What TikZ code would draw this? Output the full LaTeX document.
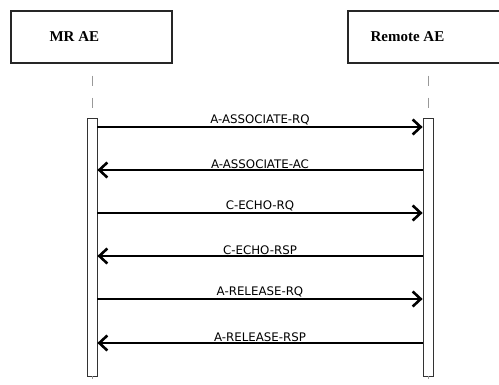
\documentclass[tikz,border=0pt]{standalone}
\usepackage{fontspec}
\setmainfont{Liberation Serif}
\newfontfamily\msgfont{DejaVu Sans}
\usetikzlibrary{arrows.meta,positioning}
\tikzstyle{entity} = [rectangle, draw=black!85, line width=1.5pt,
    minimum width=161pt, minimum height=52pt, inner sep=0pt]
\tikzstyle{title} = [font=\fontsize{15}{18}\selectfont\bfseries, anchor=west]
\tikzstyle{lifeline} = [draw=black!40, line width=1pt,
    dash pattern=on 10pt off 12pt, dash phase=10pt]
\tikzstyle{bar} = [rectangle, draw=black!80, fill=white, line width=0.8pt,
    minimum width=10pt, minimum height=258pt, inner sep=0pt]
\tikzstyle{line} = [draw, line width=2pt,
    -{Straight Barb[length=8pt,width=15pt,line width=2.6pt]}]
\tikzstyle{msg} = [font=\msgfont\fontsize{11.8}{14}\selectfont, above, inner sep=0.8pt]

\begin{document}
\begin{tikzpicture}[x=1pt, y=-1pt]
    \useasboundingbox (0,0) rectangle (499,385);
    % Place nodes
    \node [entity] (mr) at (91.5,37) {};
    \node [title] (mrtext) at (46,37) {MR AE};
    \node [entity, minimum width=154pt] (remote) at (425,37) {};
    \node [title] (remotetext) at (367,37) {Remote AE};
    \node [bar] (mrbar) at (92,247) {};
    \node [bar] (remotebar) at (428,247) {};
    \coordinate (mrend) at (92,385);
    \coordinate (remoteend) at (428,385);
    \coordinate (m1) at (0,127);
    \coordinate (m2) at (0,170);
    \coordinate (m3) at (0,213);
    \coordinate (m4) at (0,256);
    \coordinate (m5) at (0,299);
    \coordinate (m6) at (0,343);
    % Draw lifelines
    \path [lifeline] (mrbar.north |- mr.south) -- (mrbar.north);
    \path [lifeline] (remotebar.north |- remote.south) -- (remotebar.north);
    \path [lifeline, dash phase=7pt] (mrbar.south) -- (mrend);
    \path [lifeline, dash phase=7pt] (remotebar.south) -- (remoteend);
    % Draw edges
    \path [line] (mrbar.east |- m1) -- node [msg] {A-ASSOCIATE-RQ} (remotebar.west |- m1);
    \path [line] (remotebar.west |- m2) -- node [msg] {A-ASSOCIATE-AC} (mrbar.east |- m2);
    \path [line] (mrbar.east |- m3) -- node [msg] {C-ECHO-RQ} (remotebar.west |- m3);
    \path [line] (remotebar.west |- m4) -- node [msg] {C-ECHO-RSP} (mrbar.east |- m4);
    \path [line] (mrbar.east |- m5) -- node [msg] {A-RELEASE-RQ} (remotebar.west |- m5);
    \path [line] (remotebar.west |- m6) -- node [msg] {A-RELEASE-RSP} (mrbar.east |- m6);
\end{tikzpicture}
\end{document}
